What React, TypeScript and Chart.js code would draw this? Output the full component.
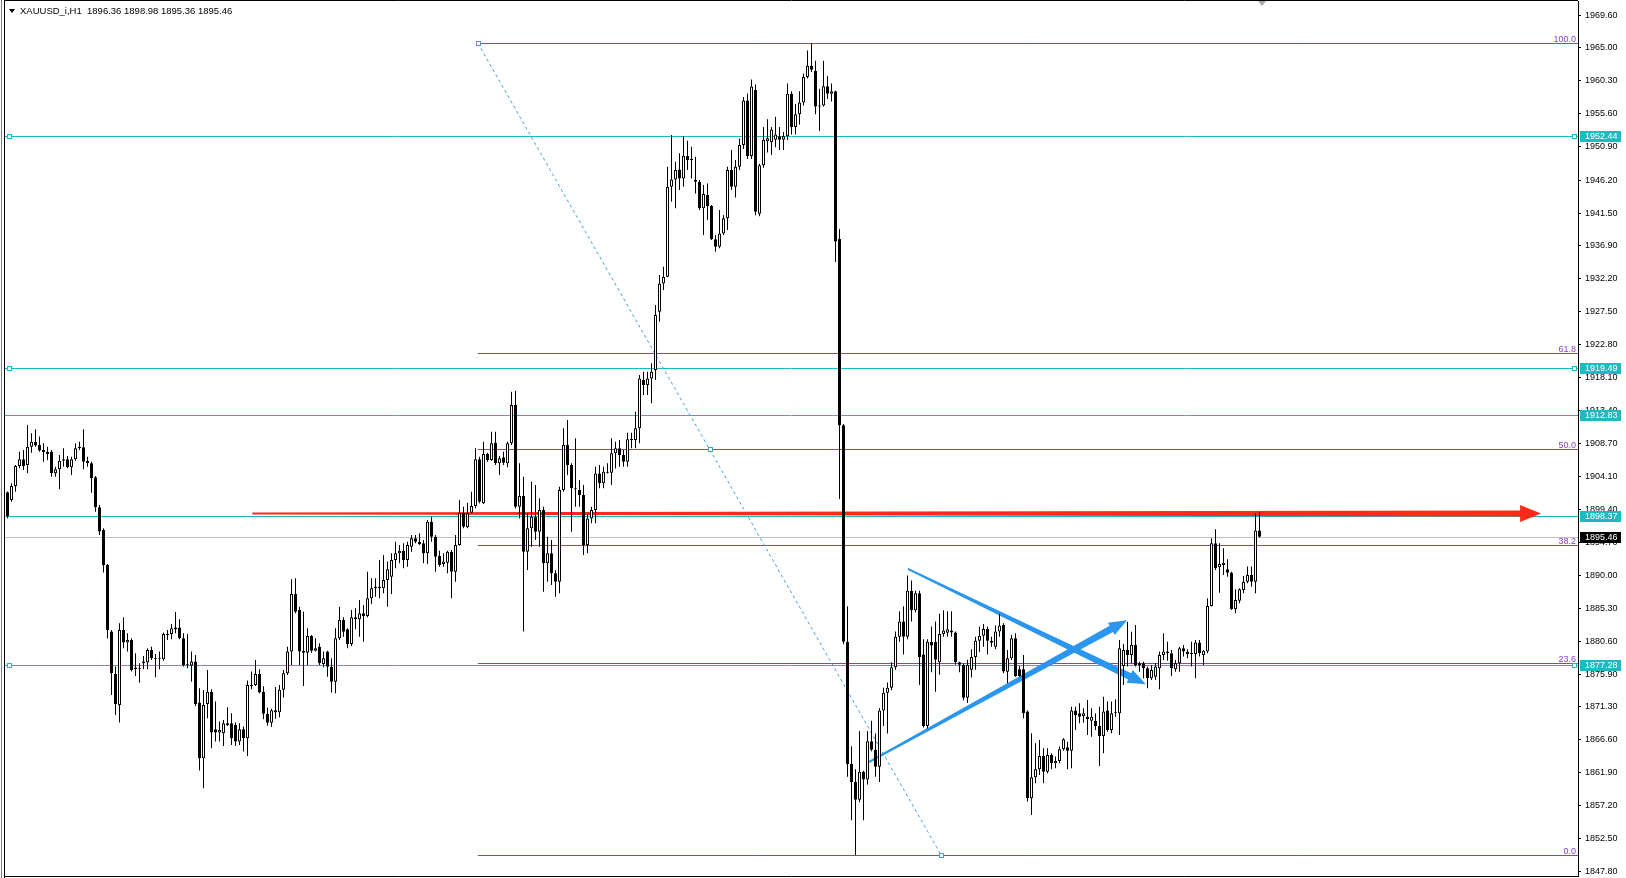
import React, { useEffect, useRef } from 'react';
import { Chart, registerables } from 'chart.js';

Chart.register(...registerables);

const titleText = 'XAUUSD_i,H1  1896.36 1898.98 1895.36 1895.46';

const opens = [
1901.80,1900.70,1902.69,1905.53,1906.48,1905.68,1908.28,1908.99,1908.52,1907.81,
1907.57,1907.57,1904.49,1905.06,1906.29,1906.48,1905.34,1906.48,1908.05,1908.19,
1906.25,1905.91,1903.92,1899.66,1896.43,1891.46,1881.98,1875.96,1871.55,1882.21,
1880.41,1880.79,1876.86,1876.76,1877.47,1877.57,1879.37,1878.19,1878.04,1878.04,
1881.64,1881.64,1882.31,1882.55,1881.03,1877.33,1877.14,1877.71,1871.88,1863.97,
1871.69,1873.44,1868.09,1867.62,1867.52,1868.94,1868.94,1868.71,1866.34,1868.09,
1866.81,1874.25,1874.39,1875.96,1873.44,1870.30,1869.00,1870.80,1870.50,1873.70,
1876.05,1879.13,1887.33,1885.05,1879.27,1878.98,1881.35,1879.27,1879.84,1877.37,
1879.13,1876.99,1874.86,1881.02,1883.63,1882.30,1880.22,1884.01,1883.72,1884.58,
1884.20,1886.71,1888.13,1888.37,1888.13,1889.32,1889.79,1892.16,1893.11,1893.49,
1892.16,1894.06,1895.24,1894.77,1894.53,1893.11,1897.61,1895.48,1892.73,1891.59,
1891.78,1893.35,1890.50,1894.29,1898.89,1896.81,1898.89,1899.84,1906.48,1900.22,
1907.24,1906.38,1908.85,1905.91,1906.76,1905.91,1908.75,1914.20,1899.74,1901.26,
1893.34,1896.66,1898.32,1896.19,1899.27,1891.69,1893.11,1890.26,1889.08,1902.11,
1908.51,1905.67,1902.35,1902.11,1901.40,1894.29,1898.08,1899.27,1904.48,1903.06,
1904.72,1904.58,1907.33,1908.04,1907.09,1906.14,1909.32,1909.23,1910.88,1917.76,
1917.04,1917.99,1919.18,1927.47,1931.50,1932.45,1945.25,1946.29,1947.71,1946.43,
1949.61,1949.04,1946.20,1945.96,1942.17,1944.06,1942.50,1937.76,1936.72,1938.61,
1940.75,1947.62,1945.25,1948.09,1951.17,1957.50,1949.60,1959.00,1941.42,1948.31,
1951.72,1951.57,1951.93,1952.44,1951.93,1952.44,1958.46,1953.75,1955.56,1957.23,
1960.85,1962.45,1961.72,1956.65,1956.79,1959.55,1958.46,1958.82,1937.80,1911.34,
1880.53,1863.14,1860.59,1858.06,1862.05,1860.96,1866.40,1865.16,1862.77,1870.74,
1873.28,1874.01,1876.91,1881.26,1883.43,1881.26,1887.78,1885.03,1887.42,1878.72,
1868.57,1880.53,1880.53,1877.63,1881.62,1881.80,1882.13,1881.84,1877.63,1877.27,
1872.56,1876.55,1878.36,1880.68,1881.40,1882.35,1880.68,1879.81,1881.98,1882.92,
1876.28,1878.18,1881.02,1876.61,1876.61,1870.60,1858.27,1861.26,1862.39,1864.29,
1862.06,1864.43,1863.25,1863.58,1865.24,1865.52,1865.05,1870.74,1870.36,1869.98,
1869.88,1869.31,1869.31,1868.56,1867.13,1870.74,1867.99,1870.36,1870.36,1877.09,
1879.36,1878.65,1880.08,1877.47,1877.47,1876.76,1875.33,1875.57,1876.76,1878.65,
1878.89,1878.89,1876.61,1877.47,1879.60,1879.13,1878.98,1878.80,1880.41,1878.65,
1879.13,1885.62,1894.53,1891.12,1891.45,1890.84,1890.36,1885.15,1886.38,1887.90,
1889.08,1890.03,1889.08,1896.36
];

const highs = [
1901.90,1903.07,1905.68,1907.57,1907.81,1911.36,1910.18,1910.75,1909.71,1908.76,
1908.28,1907.81,1905.44,1907.10,1908.05,1906.96,1906.86,1908.76,1908.99,1910.75,
1906.86,1906.15,1904.11,1899.99,1896.67,1891.60,1882.21,1877.00,1883.16,1884.01,
1881.74,1881.03,1878.90,1877.47,1878.52,1879.61,1879.84,1878.80,1879.13,1881.84,
1882.21,1883.07,1884.77,1883.73,1881.74,1881.64,1879.13,1878.66,1873.92,1873.68,
1876.53,1873.77,1872.02,1869.18,1869.42,1871.22,1870.36,1869.04,1868.94,1868.47,
1875.01,1876.29,1877.95,1876.62,1874.20,1871.20,1871.00,1874.10,1874.40,1876.50,
1879.84,1889.41,1889.56,1885.52,1884.81,1882.44,1881.50,1881.02,1880.31,1879.13,
1879.27,1878.18,1882.44,1885.52,1884.01,1882.44,1885.05,1885.29,1886.47,1885.76,
1890.50,1889.56,1889.56,1892.16,1892.87,1891.93,1893.11,1894.77,1894.29,1894.53,
1894.77,1895.72,1895.72,1895.95,1895.01,1897.85,1898.32,1895.72,1893.49,1893.11,
1893.49,1893.58,1895.72,1900.69,1899.75,1900.32,1901.88,1908.04,1906.86,1908.99,
1907.43,1910.41,1910.41,1906.95,1907.57,1908.99,1916.10,1916.24,1905.91,1904.01,
1898.79,1903.30,1902.82,1900.93,1899.74,1895.48,1895.00,1890.74,1902.59,1910.88,
1912.07,1905.91,1909.46,1903.54,1902.82,1898.79,1899.74,1905.43,1905.67,1905.43,
1905.91,1909.46,1908.99,1909.23,1907.80,1910.26,1910.26,1913.25,1918.47,1918.94,
1918.94,1920.13,1928.42,1932.69,1933.87,1948.09,1952.60,1948.80,1949.99,1952.45,
1951.79,1950.94,1949.52,1946.20,1945.49,1945.72,1942.64,1938.38,1941.93,1941.22,
1948.09,1950.46,1949.04,1952.12,1958.00,1958.50,1960.50,1959.80,1948.50,1953.75,
1954.83,1953.75,1955.20,1953.75,1953.02,1959.91,1958.82,1957.01,1958.82,1961.36,
1964.62,1965.65,1963.17,1959.18,1963.17,1961.00,1959.91,1958.90,1939.25,1911.50,
1885.60,1865.67,1862.41,1867.85,1862.20,1867.85,1869.29,1867.48,1871.11,1874.01,
1874.74,1877.63,1881.98,1884.88,1885.60,1889.95,1889.23,1887.78,1887.78,1880.89,
1880.89,1882.71,1883.43,1884.52,1885.03,1884.88,1884.88,1881.98,1877.70,1877.40,
1877.99,1879.45,1881.26,1882.71,1883.07,1882.71,1881.26,1882.85,1884.52,1883.16,
1879.36,1881.50,1881.73,1877.09,1878.65,1870.74,1867.51,1866.09,1866.56,1865.38,
1865.38,1864.67,1864.20,1865.62,1866.80,1866.33,1871.30,1871.30,1871.78,1871.07,
1872.25,1871.07,1870.36,1871.30,1872.73,1872.02,1872.02,1872.35,1880.79,1880.22,
1883.39,1881.97,1882.92,1877.70,1877.70,1877.00,1877.23,1877.47,1879.13,1881.73,
1880.55,1879.36,1877.94,1879.84,1880.08,1879.46,1880.55,1880.79,1880.79,1879.36,
1886.71,1895.24,1896.52,1894.53,1893.82,1892.26,1890.50,1887.99,1888.13,1889.89,
1891.22,1891.22,1898.80,1898.98
];

const lows = [
1898.10,1900.46,1901.88,1905.20,1904.96,1904.49,1907.43,1908.28,1907.57,1906.15,
1906.39,1904.01,1904.01,1902.21,1905.44,1905.20,1904.25,1906.29,1907.81,1905.06,
1905.44,1901.74,1899.04,1895.72,1890.37,1881.00,1872.97,1870.13,1869.04,1879.61,
1879.13,1876.29,1875.67,1874.72,1876.62,1876.62,1877.95,1875.48,1876.62,1877.85,
1880.79,1880.88,1881.74,1880.88,1877.00,1876.76,1874.86,1871.41,1862.21,1859.70,
1869.65,1865.39,1866.34,1866.34,1865.72,1868.56,1865.86,1865.72,1865.86,1864.91,
1864.30,1873.77,1874.25,1873.21,1869.50,1868.60,1868.40,1869.60,1869.80,1872.60,
1875.81,1877.23,1884.58,1877.23,1874.24,1877.23,1878.98,1879.13,1877.23,1876.90,
1875.57,1873.30,1873.20,1880.79,1881.26,1879.60,1879.93,1882.30,1881.26,1880.55,
1884.01,1885.90,1886.95,1886.71,1887.42,1885.52,1887.33,1890.98,1891.69,1890.98,
1891.21,1893.35,1894.53,1894.29,1891.69,1891.59,1894.77,1890.50,1891.21,1891.21,
1890.27,1886.71,1889.08,1894.20,1896.67,1896.67,1898.80,1899.51,1900.22,1900.13,
1906.15,1906.29,1905.67,1904.25,1905.67,1905.34,1908.51,1899.50,1898.08,1882.00,
1890.74,1894.05,1895.00,1894.05,1887.66,1889.08,1888.60,1886.94,1887.42,1901.88,
1904.25,1896.19,1899.74,1899.74,1892.87,1893.11,1897.37,1897.37,1902.35,1902.35,
1904.48,1902.82,1905.19,1905.43,1905.43,1905.43,1908.04,1908.04,1908.75,1915.62,
1915.62,1914.44,1917.76,1926.05,1930.55,1932.36,1943.12,1942.17,1944.78,1945.25,
1947.62,1946.43,1944.30,1941.93,1938.38,1940.51,1937.67,1936.01,1936.48,1938.38,
1939.09,1944.78,1943.73,1947.62,1950.60,1949.20,1949.20,1941.20,1941.06,1947.95,
1950.12,1949.76,1950.85,1950.48,1950.48,1951.90,1952.66,1952.66,1954.11,1956.79,
1960.63,1961.58,1955.56,1953.17,1956.65,1957.73,1957.37,1934.54,1900.83,1880.17,
1861.32,1855.16,1850.20,1857.70,1855.16,1860.23,1864.95,1861.32,1860.59,1868.57,
1867.48,1873.65,1876.55,1880.53,1878.72,1880.89,1883.43,1884.74,1874.38,1868.35,
1868.21,1876.19,1873.43,1875.83,1881.26,1881.26,1881.26,1877.27,1876.19,1872.20,
1871.83,1875.46,1876.55,1879.08,1879.81,1878.72,1879.81,1879.45,1881.26,1876.05,
1874.62,1877.94,1875.57,1875.57,1869.65,1857.80,1855.90,1860.40,1861.59,1860.40,
1861.82,1862.39,1862.54,1863.25,1865.05,1862.39,1862.54,1867.99,1868.93,1869.03,
1867.27,1867.04,1867.99,1862.87,1864.67,1867.75,1867.51,1869.88,1867.27,1874.39,
1877.00,1877.47,1877.00,1876.28,1875.33,1873.91,1875.10,1875.10,1873.77,1877.94,
1877.85,1875.67,1876.28,1876.28,1878.42,1878.18,1877.00,1875.33,1878.42,1877.23,
1878.89,1885.53,1890.74,1887.52,1890.03,1889.79,1885.05,1884.58,1886.00,1887.42,
1888.84,1888.37,1887.42,1895.36
];

const closes = [
1898.40,1902.69,1905.53,1906.48,1905.53,1908.28,1908.99,1908.43,1907.72,1907.48,
1907.24,1904.49,1905.06,1906.29,1906.48,1905.34,1906.48,1908.05,1908.28,1906.15,
1905.91,1903.78,1899.66,1896.20,1891.46,1882.21,1876.05,1871.69,1882.21,1880.41,
1880.79,1876.53,1876.62,1876.62,1877.71,1879.37,1878.19,1878.04,1878.19,1881.64,
1881.50,1882.45,1882.55,1881.03,1877.24,1877.14,1877.71,1871.69,1863.97,1871.55,
1873.44,1867.62,1867.62,1867.99,1868.94,1868.71,1866.81,1866.34,1868.09,1866.81,
1874.39,1874.39,1875.96,1873.30,1870.30,1869.00,1870.80,1870.50,1873.70,1876.05,
1879.13,1887.33,1884.81,1879.13,1878.98,1881.35,1879.27,1879.60,1877.47,1878.18,
1876.99,1874.86,1881.02,1883.63,1881.97,1880.22,1884.01,1883.72,1884.58,1884.20,
1886.71,1888.13,1888.37,1888.13,1889.32,1890.83,1892.16,1893.11,1893.49,1892.16,
1894.29,1895.24,1894.77,1894.44,1893.11,1897.61,1895.48,1892.64,1891.45,1891.93,
1893.35,1890.50,1894.29,1898.89,1896.90,1898.80,1899.84,1906.48,1900.46,1907.24,
1906.38,1908.75,1905.91,1906.62,1906.00,1908.75,1914.20,1899.74,1901.26,1893.34,
1896.66,1898.32,1896.19,1899.27,1891.69,1893.11,1890.26,1889.08,1902.11,1908.51,
1905.67,1902.35,1902.21,1901.40,1894.29,1898.08,1899.27,1904.48,1903.06,1904.72,
1904.58,1907.33,1908.04,1907.09,1906.14,1909.32,1909.23,1910.88,1917.99,1917.04,
1917.99,1918.94,1927.00,1931.50,1932.45,1945.25,1946.29,1947.62,1946.43,1949.61,
1949.04,1949.14,1945.96,1942.17,1944.21,1942.50,1937.76,1936.72,1938.61,1940.75,
1947.62,1945.25,1948.09,1951.17,1957.50,1949.60,1959.50,1941.70,1948.31,1951.93,
1952.15,1953.38,1952.66,1951.93,1952.44,1958.46,1953.75,1955.56,1957.23,1960.85,
1962.45,1961.87,1956.65,1956.79,1959.55,1958.46,1958.82,1937.44,1911.34,1880.53,
1863.14,1860.59,1858.06,1862.05,1860.96,1866.40,1865.16,1862.77,1870.74,1873.28,
1874.01,1876.91,1881.26,1883.43,1881.26,1887.78,1885.03,1887.42,1878.36,1868.57,
1880.53,1880.00,1877.99,1881.62,1882.13,1882.30,1881.84,1877.63,1877.27,1872.56,
1877.27,1878.36,1880.68,1881.40,1882.35,1880.68,1880.39,1881.98,1882.85,1876.29,
1878.18,1881.02,1875.67,1875.67,1870.36,1858.27,1861.26,1862.39,1864.29,1862.06,
1864.43,1863.25,1863.58,1865.24,1866.66,1865.05,1870.74,1870.12,1869.88,1870.36,
1869.50,1869.88,1868.56,1867.13,1870.60,1867.99,1870.36,1870.45,1879.60,1879.36,
1878.65,1880.08,1877.23,1877.14,1876.76,1875.33,1876.52,1877.00,1878.65,1879.13,
1879.13,1876.76,1877.47,1879.60,1879.13,1878.80,1878.80,1880.41,1878.89,1879.27,
1885.62,1894.53,1890.98,1891.59,1891.78,1890.36,1885.15,1886.47,1887.99,1889.08,
1890.03,1889.08,1896.36,1895.46
];

const yTicks = [
  1969.60, 1965.00, 1960.30, 1955.60, 1950.90, 1946.20, 1941.50, 1936.90, 1932.20,
  1927.50, 1922.80, 1918.10, 1913.40, 1908.70, 1904.10, 1899.40, 1894.70, 1890.00,
  1885.30, 1880.60, 1875.90, 1871.30, 1866.60, 1861.90, 1857.20, 1852.50, 1847.80,
];
const yMin = 1847.22;
const yMax = 1971.66;
const xMin = -0.625;
const xMax = 392.625;

const hLines = [1952.44, 1919.49, 1912.83, 1898.37, 1877.28];
const hLinesAnchored = [1952.44, 1919.49, 1877.28];
const bidPrice = 1895.46;

const fibLevels = [0, 23.6, 38.2, 50, 61.8, 100];
const fibLabels = ['0.0', '23.6', '38.2', '50.0', '61.8', '100.0'];
const fibHigh = 1965.65;
const fibLow = 1850.2;
const fibFromIndex = 117.6;
const fibToIndex = 233.4;

const redArrow = { x1: 61.2, y1: 1898.78, x2: 383.4, y2: 1898.78 };
const blueArrows = [
  { x1: 225.1, y1: 1890.9, x2: 284.6, y2: 1874.5 },
  { x1: 215.3, y1: 1863.4, x2: 279.9, y2: 1883.6 },
];

const CYAN = '#1DBAC2';
const PURPLE = '#8A3FC4';
const BLUE = '#2A96EE';
const DASH_BLUE = '#3F9FE0';
const RED = '#FF2A1A';
const FONT = '"Liberation Sans", Arial, sans-serif';

function drawArrow(ctx: CanvasRenderingContext2D, x1: number, y1: number, x2: number, y2: number,
  w1: number, w2: number, headLen: number, headHalf: number, color: string) {
  const dx = x2 - x1, dy = y2 - y1;
  const len = Math.hypot(dx, dy);
  const ux = dx / len, uy = dy / len;
  const nx = -uy, ny = ux;
  const bx = x2 - ux * headLen, by = y2 - uy * headLen;
  ctx.beginPath();
  ctx.moveTo(x1 + nx * w1 / 2, y1 + ny * w1 / 2);
  ctx.lineTo(bx + nx * w2 / 2, by + ny * w2 / 2);
  ctx.lineTo(bx + nx * headHalf, by + ny * headHalf);
  ctx.lineTo(x2, y2);
  ctx.lineTo(bx - nx * headHalf, by - ny * headHalf);
  ctx.lineTo(bx - nx * w2 / 2, by - ny * w2 / 2);
  ctx.lineTo(x1 - nx * w1 / 2, y1 - ny * w1 / 2);
  ctx.closePath();
  ctx.fillStyle = color;
  ctx.fill();
}

const overlayPlugin = {
  id: 'mtOverlay',
  beforeDatasetsDraw(chart: any) {
    const { ctx, chartArea: a, scales } = chart;
    const xs = scales.x, ys = scales.y;
    const py = (v: number) => Math.round(ys.getPixelForValue(v)) + 0.5;
    ctx.save();
    ctx.beginPath();
    ctx.rect(a.left, a.top, a.right - a.left, a.bottom - a.top);
    ctx.clip();
    ctx.lineWidth = 1;
    ctx.strokeStyle = '#C0C0C0';
    ctx.beginPath();
    ctx.moveTo(a.left, py(bidPrice));
    ctx.lineTo(a.right, py(bidPrice));
    ctx.stroke();
    const fx = xs.getPixelForValue(fibFromIndex);
    ctx.strokeStyle = PURPLE;
    fibLevels.forEach((lv) => {
      const v = fibLow + (lv / 100) * (fibHigh - fibLow);
      ctx.beginPath();
      ctx.moveTo(fx, py(v));
      ctx.lineTo(a.right, py(v));
      ctx.stroke();
    });
    ctx.strokeStyle = CYAN;
    hLines.forEach((v) => {
      ctx.beginPath();
      ctx.moveTo(a.left, py(v));
      ctx.lineTo(a.right, py(v));
      ctx.stroke();
    });
    const dx1 = xs.getPixelForValue(fibFromIndex), dy1 = ys.getPixelForValue(fibHigh);
    const dx2 = xs.getPixelForValue(fibToIndex), dy2 = ys.getPixelForValue(fibLow);
    ctx.strokeStyle = DASH_BLUE;
    ctx.setLineDash([3, 3]);
    ctx.beginPath();
    ctx.moveTo(dx1, dy1);
    ctx.lineTo(dx2, dy2);
    ctx.stroke();
    ctx.setLineDash([]);
    [[dx1, dy1], [(dx1 + dx2) / 2, (dy1 + dy2) / 2], [dx2, dy2]].forEach(([x, y]) => {
      ctx.fillStyle = '#fff';
      ctx.fillRect(Math.round(x) - 2, Math.round(y) - 2, 4, 4);
      ctx.strokeRect(Math.round(x) - 1.5, Math.round(y) - 1.5, 4, 4);
    });
    drawArrow(ctx, xs.getPixelForValue(redArrow.x1), ys.getPixelForValue(redArrow.y1),
      xs.getPixelForValue(redArrow.x2), ys.getPixelForValue(redArrow.y2), 2, 6, 21, 8.5, RED);
    blueArrows.forEach((ar) => {
      drawArrow(ctx, xs.getPixelForValue(ar.x1), ys.getPixelForValue(ar.y1),
        xs.getPixelForValue(ar.x2), ys.getPixelForValue(ar.y2), 2, 7, 18, 7, BLUE);
    });
    ctx.restore();
  },
  afterDraw(chart: any) {
    const { ctx, chartArea: a, scales } = chart;
    const ys = scales.y;
    const py = (v: number) => Math.round(ys.getPixelForValue(v)) + 0.5;
    ctx.save();
    ctx.font = `9px ${FONT}`;
    ctx.textAlign = 'right';
    ctx.textBaseline = 'alphabetic';
    ctx.fillStyle = PURPLE;
    fibLevels.forEach((lv, k) => {
      const v = fibLow + (lv / 100) * (fibHigh - fibLow);
      ctx.fillText(fibLabels[k], a.right - 2, py(v) - 2);
    });
    ctx.strokeStyle = CYAN;
    ctx.lineWidth = 1;
    hLinesAnchored.forEach((v) => {
      const y = py(v);
      [a.left + 3, a.right - 5].forEach((x) => {
        ctx.fillStyle = '#fff';
        ctx.fillRect(x - 0.5, y - 2, 4, 4);
        ctx.strokeRect(x - 0.5, y - 2, 4, 4);
      });
    });
    ctx.textAlign = 'left';
    ctx.textBaseline = 'middle';
    const box = (v: number, bg: string) => {
      const y = Math.round(ys.getPixelForValue(v));
      ctx.fillStyle = bg;
      ctx.fillRect(a.right + 2, y - 5, 41, 11);
      ctx.fillStyle = '#fff';
      ctx.fillText(v.toFixed(2), a.right + 7, y + 0.5);
    };
    hLines.forEach((v) => box(v, CYAN));
    box(bidPrice, '#000');
    ctx.strokeStyle = '#000';
    ctx.beginPath();
    ctx.moveTo(a.left - 0.5, 0);
    ctx.lineTo(a.left - 0.5, chart.height);
    ctx.moveTo(a.left, 0.5);
    ctx.lineTo(a.right, 0.5);
    ctx.moveTo(a.left, a.bottom + 0.5);
    ctx.lineTo(a.right, a.bottom + 0.5);
    ctx.stroke();
    ctx.strokeStyle = '#808080';
    ctx.beginPath();
    ctx.moveTo(1.5, 0);
    ctx.lineTo(1.5, chart.height);
    ctx.stroke();
    ctx.fillStyle = '#000';
    ctx.beginPath();
    ctx.moveTo(9, 9);
    ctx.lineTo(15, 9);
    ctx.lineTo(12, 13);
    ctx.closePath();
    ctx.fill();
    ctx.font = `9.5px ${FONT}`;
    ctx.textBaseline = 'middle';
    ctx.fillText(titleText, 20, 11);
    ctx.fillStyle = '#A8A8A8';
    ctx.beginPath();
    ctx.moveTo(1258, 1);
    ctx.lineTo(1266, 1);
    ctx.lineTo(1262, 6);
    ctx.closePath();
    ctx.fill();
    ctx.restore();
  },
};

export default function App() {
  const canvasRef = useRef<HTMLCanvasElement | null>(null);
  useEffect(() => {
    document.body.style.margin = '0';
    const canvas = canvasRef.current;
    if (!canvas) return;
    const bodyData = opens.map((o, i) => ({ x: i, y: [o, closes[i]] }));
    const wickData = lows.map((l, i) => ({ x: i, y: [l, highs[i]] }));
    const bodyColors = opens.map((o, i) => (closes[i] >= o ? '#ffffff' : '#000000'));
    const chart = new Chart(canvas, {
      type: 'bar',
      data: {
        datasets: [
          {
            label: 'body',
            data: bodyData as any,
            backgroundColor: bodyColors,
            borderColor: '#000000',
            borderWidth: 1,
            borderSkipped: false,
            barThickness: 3,
            minBarLength: 1,
            grouped: false,
            inflateAmount: 0,
            order: 0,
          } as any,
          {
            label: 'wick',
            data: wickData as any,
            backgroundColor: '#000000',
            borderWidth: 0,
            barThickness: 1,
            grouped: false,
            inflateAmount: 0,
            order: 1,
          } as any,
        ],
      },
      options: {
        responsive: false,
        devicePixelRatio: 1,
        animation: false,
        events: [],
        layout: { padding: { left: 5, top: 1, right: 0, bottom: 2 } },
        plugins: { legend: { display: false }, tooltip: { enabled: false } },
        scales: {
          x: { type: 'linear', min: xMin, max: xMax, display: false, offset: false } as any,
          y: {
            type: 'linear',
            position: 'right',
            min: yMin,
            max: yMax,
            afterBuildTicks: (s: any) => { s.ticks = yTicks.map((v) => ({ value: v })); },
            afterFit: (s: any) => { s.width = 48; s.paddingTop = 0; s.paddingBottom = 0; },
            ticks: {
              autoSkip: false,
              padding: 4,
              color: '#000',
              font: { family: FONT, size: 9 },
              callback: (v: any) => Number(v).toFixed(2),
            },
            grid: { drawOnChartArea: false, drawTicks: true, tickLength: 3, color: '#000' },
            border: { display: true, color: '#000', width: 1 },
          } as any,
        },
      },
      plugins: [overlayPlugin],
    });
    return () => chart.destroy();
  }, []);
  return (
    <div style={{ width: 1626, height: 878, background: '#fff' }}>
      <canvas ref={canvasRef} width={1626} height={878} style={{ display: 'block' }} />
    </div>
  );
}
